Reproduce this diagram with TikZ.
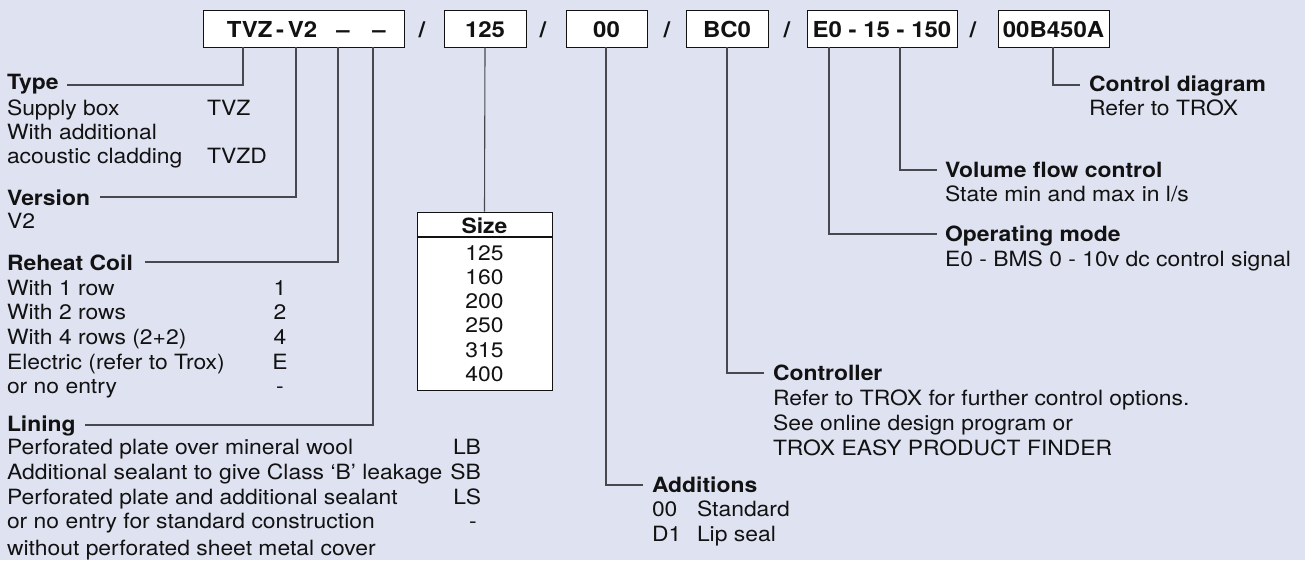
\documentclass[tikz,border=0pt]{standalone}
\usepackage{fontspec}
\setmainfont{TeX Gyre Heros}[FakeStretch=1.09]
\usetikzlibrary{calc}
\definecolor{bg}{RGB}{223,226,241}
\definecolor{ink}{RGB}{18,18,18}
\definecolor{wirec}{RGB}{72,72,78}
\begin{document}
\begin{tikzpicture}[x=1pt,y=-1pt,
  txt/.style={anchor=base west, inner sep=0pt, outer sep=0pt, text=ink, font=\fontsize{21}{25}\selectfont},
  hd/.style={txt, font=\fontsize{21}{25}\selectfont\bfseries},
  ctxt/.style={txt, anchor=base},
  rtxt/.style={txt, anchor=base east},
  codebox/.style={draw=ink, line width=0.9pt, fill=white, inner sep=0pt, minimum height=37pt},
  codetxt/.style={anchor=base, inner sep=0pt, text=ink, font=\fontsize{22}{26}\selectfont\bfseries},
  wire/.style={draw=wirec, line width=1.1pt}]
\useasboundingbox[fill=bg] (0,0) rectangle (1305,560);

% ---- code boxes ----
\node[codebox, minimum width=201pt] (b1) at (303.5,28.5) {};
\node[codebox, minimum width=82pt]  (b2) at (485,28.5) {};
\node[codebox, minimum width=81pt]  (b3) at (606.5,28.5) {};
\node[codebox, minimum width=82pt]  (b4) at (727,28.5) {};
\node[codebox, minimum width=150pt] (b5) at (882,28.5) {};
\node[codebox, minimum width=111pt] (b6) at (1053.5,28.5) {};

\node[codetxt] (tvz) at (272,37) {TVZ\,-\,V2};
\node[codetxt] (da1) at (343,37) {\textendash};
\node[codetxt] (da2) at (379,37) {\textendash};
\node[codetxt] (s1) at (422,37) {/};
\node[codetxt] (t125) at (485,37) {125};
\node[codetxt] (s2) at (543,37) {/};
\node[codetxt] (t00) at (606.5,37) {00};
\node[codetxt] (s3) at (667,37) {/};
\node[codetxt] (tbc) at (727,37) {BC0};
\node[codetxt] (s4) at (787,37) {/};
\node[codetxt] (te0) at (882,37) {E0 - 15 - 150};
\node[codetxt] (s5) at (973,37) {/};
\node[codetxt] (tcd) at (1053.5,37) {00B450A};

% ---- drop points ----
\coordinate (xType) at (243,0);
\coordinate (xVer) at (296,0);
\coordinate (xRc) at (338,0);
\coordinate (xLin) at (373,0);
\coordinate (xAdd) at (606,0);
\coordinate (xCtl) at (727,0);
\coordinate (xOp) at (829,0);
\coordinate (xVol) at (900,0);
\coordinate (xCd) at (1053,0);

% ---- left texts ----
\node[hd]  (typeh) at (7,89.5) {Type};
\node[txt] (type1) at (7,115) {Supply box};
\node[txt] (type1v) at (207,115) {TVZ};
\node[txt] (type2) at (7,139) {With additional};
\node[txt] (type3) at (7,163.3) {acoustic cladding};
\node[txt] (type3v) at (207,163.3) {TVZD};

\node[hd]  (verh) at (7,205) {Version};
\node[txt] (ver1) at (7,228.5) {V2};

\node[hd]  (rch) at (7,270) {Reheat Coil};
\node[txt] (rc1) at (7,295) {With 1 row};
\node[ctxt] (rc1v) at (280,295) {1};
\node[txt] (rc2) at (7,319.3) {With 2 rows};
\node[ctxt] (rc2v) at (280,319.3) {2};
\node[txt] (rc3) at (7,344) {With 4 rows (2+2)};
\node[ctxt] (rc3v) at (280,344) {4};
\node[txt] (rc4) at (7,369) {Electric (refer to Trox)};
\node[ctxt] (rc4v) at (280,369) {E};
\node[txt] (rc5) at (7,393.3) {or no entry};
\node[ctxt] (rc5v) at (280,393.3) {-};

\node[hd]  (linh) at (7,431.5) {Lining};
\node[txt] (lin1) at (7,454.5) {Perforated plate over mineral wool};
\node[rtxt] (lin1v) at (481,454.5) {LB};
\node[txt] (lin2) at (7,479) {Additional sealant to give Class ‘B’ leakage};
\node[rtxt] (lin2v) at (481,479) {SB};
\node[txt] (lin3) at (7,504) {Perforated plate and additional sealant};
\node[rtxt] (lin3v) at (481,504) {LS};
\node[txt] (lin4) at (7,528.7) {or no entry for standard construction};
\node[ctxt] (lin4v) at (473,528.7) {-};
\node[txt] (lin5) at (7,555) {without perforated sheet metal cover};

% ---- size table ----
\node[draw=ink, line width=0.9pt, fill=white, inner sep=0pt, minimum width=135pt, minimum height=178pt] (size) at (484.5,301) {};
\draw[ink, line width=1.8pt] (size.west |- 0,237) -- (size.east |- 0,237);
\node[ctxt, font=\fontsize{21}{25}\selectfont\bfseries] (sizeh) at (484.5,233) {Size};
\node[ctxt] (sz1) at (484.5,260) {125};
\node[ctxt] (sz2) at (484.5,284.3) {160};
\node[ctxt] (sz3) at (484.5,308.6) {200};
\node[ctxt] (sz4) at (484.5,332.9) {250};
\node[ctxt] (sz5) at (484.5,357.2) {315};
\node[ctxt] (sz6) at (484.5,381.5) {400};

% ---- right texts ----
\node[hd]  (cdh) at (1089,91.5) {Control diagram};
\node[txt] (cd1) at (1089,115) {Refer to TROX};
\node[hd]  (volh) at (945,177.5) {Volume flow control};
\node[txt] (vol1) at (945,201.5) {State min and max in l/s};
\node[hd]  (oph) at (945,241) {Operating mode};
\node[txt] (op1) at (945,266.5) {E0 - BMS 0 - 10v dc control signal};
\node[hd]  (ctlh) at (773,380) {Controller};
\node[txt] (ctl1) at (773,405) {Refer to TROX for further control options.};
\node[txt] (ctl2) at (773,430) {See online design program or};
\node[txt] (ctl3) at (773,455) {TROX EASY PRODUCT FINDER};
\node[hd]  (addh) at (652,492.5) {Additions};
\node[txt] (add1) at (652,516.7) {00};
\node[txt] (add1t) at (697,516.7) {Standard};
\node[txt] (add2) at (652,541.7) {D1};
\node[txt] (add2t) at (697,541.7) {Lip seal};

% ---- connector ends ----
\coordinate (eType) at (67,85);
\coordinate (eVer) at (100,197);
\coordinate (eRc) at (145,262);
\coordinate (eLin) at (85,425);
\coordinate (eAdd) at (643,485);
\coordinate (eCtl) at (764,373);
\coordinate (eOp) at (937,234);
\coordinate (eVol) at (937,170);
\coordinate (eCd) at (1080,85);

% ---- connectors ----
\draw[wire] (b1.south -| xType) |- (eType);
\draw[wire] (b1.south -| xVer) |- (eVer);
\draw[wire] (b1.south -| xRc) |- (eRc);
\draw[wire] (b1.south -| xLin) |- (eLin);
\draw[wire] (b2.south) -- (size.north);
\draw[wire] (b3.south -| xAdd) |- (eAdd);
\draw[wire] (b4.south -| xCtl) |- (eCtl);
\draw[wire] (b5.south -| xOp) |- (eOp);
\draw[wire] (b5.south -| xVol) |- (eVol);
\draw[wire] (b6.south -| xCd) |- (eCd);
\end{tikzpicture}
\end{document}
